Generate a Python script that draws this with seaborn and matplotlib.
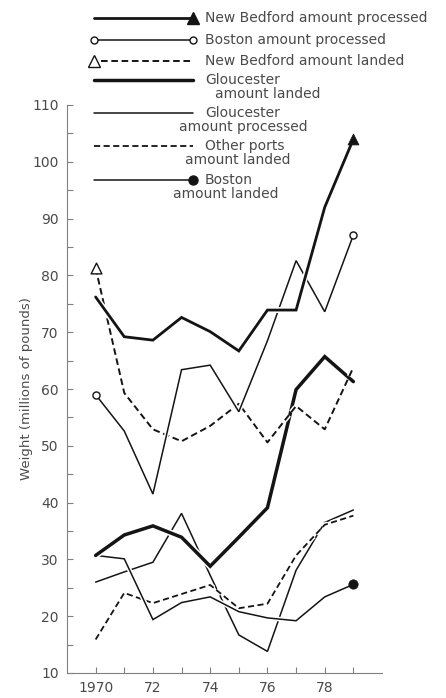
import pandas as pd
import matplotlib
matplotlib.use("Agg")
import matplotlib.pyplot as plt
import matplotlib.patheffects as pe
import seaborn as sns

# values (millions of pounds)
years = list(range(1970, 1980))
nb_processed = [76.2, 69.2, 68.6, 72.6, 70.1, 66.7, 73.9, 73.9, 92.0, 104.0]
boston_processed = [59.0, 52.6, 41.5, 63.4, 64.2, 56.0, 68.5, 82.6, 73.6, 87.1]
nb_landed = [81.3, 59.3, 52.9, 50.8, 53.5, 57.4, 50.6, 57.0, 52.9, 63.8]
glouc_landed = [30.7, 34.3, 35.9, 33.9, 28.8, 33.9, 39.1, 59.9, 65.7, 61.3]
glouc_processed = [26.0, 27.8, 29.5, 38.1, 27.2, 16.7, 13.8, 28.1, 36.5, 38.7]
other_landed = [15.9, 24.1, 22.3, 23.9, 25.5, 21.4, 22.2, 30.7, 36.1, 37.7]
boston_landed = [30.7, 30.1, 19.4, 22.4, 23.4, 20.8, 19.7, 19.2, 23.4, 25.6]

xtick_labels = ["1970", "", "72", "", "74", "", "76", "", "78", ""]
ytick_values = list(range(10, 111, 10))

series = {
    "New Bedford amount processed": nb_processed,
    "Boston amount processed": boston_processed,
    "New Bedford amount landed": nb_landed,
    "Gloucester amount landed": glouc_landed,
    "Gloucester amount processed": glouc_processed,
    "Other ports amount landed": other_landed,
    "Boston amount landed": boston_landed,
}

INK = "#141414"
TEXT = "#4a4a4a"
AXIS = "#808080"
DASH = (0, (3.4, 1.9))

styles = {
    "New Bedford amount processed": dict(lw=2.0, ls="-"),
    "Boston amount processed": dict(lw=1.1, ls="-"),
    "New Bedford amount landed": dict(lw=1.4, ls=DASH),
    "Gloucester amount landed": dict(lw=2.5, ls="-"),
    "Gloucester amount processed": dict(lw=1.1, ls="-"),
    "Other ports amount landed": dict(lw=1.3, ls=DASH),
    "Boston amount landed": dict(lw=1.1, ls="-"),
}

df = pd.DataFrame({"year": years, **series}).melt(
    id_vars="year", var_name="series", value_name="weight")

sns.set_style("ticks")
plt.rcParams["font.family"] = ["DejaVu Sans"]

fig = plt.figure(figsize=(4.46, 6.98), dpi=100)
ax = fig.add_axes([67 / 446, 25 / 698, 315 / 446, 568 / 698])

draw_order = ["Gloucester amount processed", "Other ports amount landed",
              "Boston amount landed", "Gloucester amount landed",
              "New Bedford amount landed", "Boston amount processed",
              "New Bedford amount processed"]
for name in draw_order:
    st = styles[name]
    sns.lineplot(data=df[df["series"] == name], x="year", y="weight", ax=ax,
                 color=INK, linewidth=st["lw"], linestyle=st["ls"],
                 errorbar=None, solid_joinstyle="miter",
                 path_effects=[pe.Stroke(linewidth=st["lw"] + 2.2, foreground="white"),
                               pe.Normal()])

# end markers
sns.scatterplot(x=[years[-1]], y=[nb_processed[-1]], marker="^", s=60,
                color=INK, edgecolor=INK, ax=ax, zorder=6)
sns.scatterplot(x=[years[0], years[-1]], y=[boston_processed[0], boston_processed[-1]],
                marker="o", s=26, facecolor="white", edgecolor=INK, linewidth=1.0,
                ax=ax, zorder=6)
sns.scatterplot(x=[years[0]], y=[nb_landed[0]], marker="^", s=60,
                facecolor="white", edgecolor=INK, linewidth=1.0, ax=ax, zorder=6)
sns.scatterplot(x=[years[-1]], y=[boston_landed[-1]], marker="o", s=45,
                color=INK, edgecolor=INK, ax=ax, zorder=6)

ax.set_xlim(1969, 1980)
ax.set_ylim(10, 110)
ax.set_xticks(years)
ax.set_xticklabels(xtick_labels)
ax.set_yticks(ytick_values)
ax.set_yticks([v + 5 for v in ytick_values[:-1]], minor=True)
ax.tick_params(direction="in", length=4, width=0.8, color=AXIS,
               labelcolor=TEXT, labelsize=10)
ax.tick_params(axis="y", which="minor", direction="in", length=4, width=0.8, color=AXIS)
ax.tick_params(axis="y", pad=6)
ax.tick_params(axis="x", pad=6)
sns.despine(ax=ax)
for side in ("left", "bottom"):
    ax.spines[side].set_color(AXIS)
    ax.spines[side].set_linewidth(0.8)
ax.set_xlabel("")
ax.set_ylabel("Weight (millions of pounds)", fontsize=9.5, color=TEXT)
ax.yaxis.set_label_coords(-0.108, 0.5)

# hand-set legend in the top left, pixel coordinates
leg = fig.add_axes([0, 0, 1, 1])
leg.set_xlim(0, 446)
leg.set_ylim(698, 0)
leg.set_axis_off()
leg.patch.set_visible(False)

legend_rows = [
    ("New Bedford amount processed", 18, [("New Bedford amount processed", 205, 18)]),
    ("Boston amount processed", 40, [("Boston amount processed", 205, 40)]),
    ("New Bedford amount landed", 61, [("New Bedford amount landed", 205, 61)]),
    ("Gloucester amount landed", 80, [("Gloucester", 205, 80), ("amount landed", 215, 94)]),
    ("Gloucester amount processed", 113, [("Gloucester", 205, 113), ("amount processed", 179, 127)]),
    ("Other ports amount landed", 146, [("Other ports", 205, 146), ("amount landed", 185, 160)]),
    ("Boston amount landed", 180, [("Boston", 205, 180), ("amount landed", 173, 194)]),
]
x0, x1 = 94, 193
for name, yk, texts in legend_rows:
    st = styles[name]
    start = 101 if name == "New Bedford amount landed" else x0
    leg.plot([start, x1], [yk, yk], color=INK, lw=st["lw"], ls=st["ls"])
    for txt, tx, ty in texts:
        leg.text(tx, ty, txt, fontsize=10, color=TEXT, ha="left", va="center")
leg.plot([x1], [18], marker="^", ms=8, color=INK)
leg.plot([x0, x1], [40, 40], ls="none", marker="o", ms=5, mfc="white", mec=INK, mew=1.0)
leg.plot([x0], [61], marker="^", ms=8, mfc="white", mec=INK, mew=1.0)
leg.plot([x1], [180], marker="o", ms=6.5, color=INK)

fig.savefig("out.png", dpi=100, facecolor="white")
